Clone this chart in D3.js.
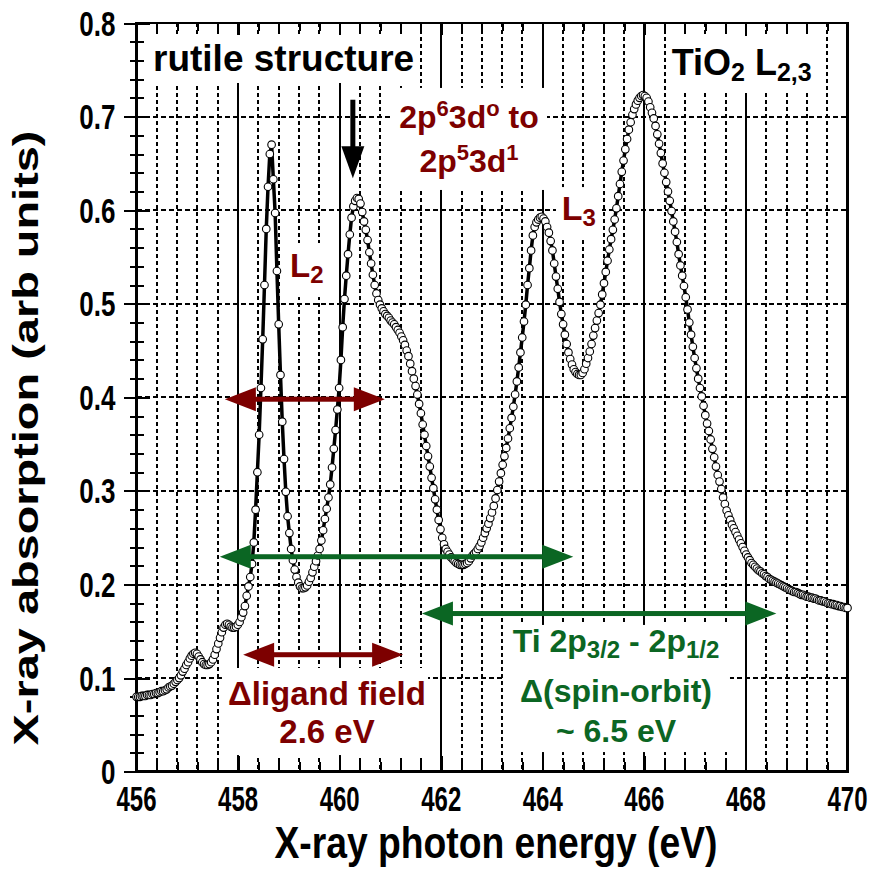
<!DOCTYPE html>
<html><head><meta charset="utf-8">
<script src="https://cdn.jsdelivr.net/npm/d3@7/dist/d3.min.js"></script>
<style>body{margin:0;background:#fff}svg{display:block}</style>
</head><body>
<script>
// ---------------- data ----------------
const energyStart = 456.0;      // eV, first sample
const energyStep = 0.035;       // eV between samples
const absorption = [
0.080,0.080,0.080,0.081,0.081,0.081,0.082,0.082,0.082,0.083,
0.083,0.084,0.084,0.085,0.086,0.086,0.087,0.088,0.090,0.091,
0.092,0.094,0.096,0.098,0.100,0.103,0.107,0.110,0.114,0.117,
0.121,0.124,0.126,0.127,0.126,0.123,0.120,0.117,0.115,0.114,
0.114,0.115,0.117,0.120,0.125,0.131,0.137,0.143,0.149,0.154,
0.157,0.158,0.157,0.155,0.154,0.154,0.155,0.157,0.160,0.165,
0.170,0.177,0.188,0.198,0.208,0.222,0.245,0.280,0.320,0.360,
0.410,0.462,0.520,0.580,0.625,0.660,0.670,0.633,0.597,0.535,
0.478,0.424,0.374,0.334,0.299,0.273,0.255,0.238,0.226,0.216,
0.208,0.202,0.198,0.196,0.196,0.197,0.199,0.203,0.207,0.213,
0.219,0.225,0.231,0.238,0.247,0.258,0.270,0.281,0.293,0.307,
0.325,0.345,0.365,0.387,0.410,0.440,0.475,0.505,0.530,0.553,
0.574,0.592,0.604,0.610,0.613,0.612,0.607,0.598,0.588,0.579,
0.568,0.555,0.543,0.531,0.520,0.511,0.504,0.499,0.495,0.492,
0.489,0.487,0.485,0.482,0.480,0.478,0.475,0.472,0.469,0.465,
0.461,0.456,0.450,0.444,0.436,0.428,0.420,0.412,0.403,0.393,
0.383,0.371,0.360,0.348,0.337,0.326,0.314,0.303,0.291,0.280,
0.269,0.259,0.250,0.243,0.238,0.235,0.232,0.229,0.227,0.225,
0.223,0.222,0.221,0.221,0.221,0.222,0.223,0.225,0.228,0.231,
0.233,0.235,0.238,0.241,0.245,0.250,0.255,0.260,0.265,0.271,
0.277,0.284,0.292,0.301,0.310,0.319,0.328,0.337,0.346,0.356,
0.367,0.378,0.390,0.403,0.417,0.432,0.448,0.464,0.481,0.499,
0.520,0.538,0.557,0.573,0.582,0.587,0.590,0.592,0.593,0.591,
0.588,0.582,0.576,0.567,0.557,0.543,0.529,0.516,0.502,0.489,
0.478,0.467,0.457,0.448,0.441,0.435,0.430,0.427,0.425,0.424,
0.424,0.426,0.430,0.436,0.442,0.449,0.457,0.466,0.474,0.482,
0.490,0.499,0.510,0.522,0.534,0.546,0.558,0.569,0.579,0.590,
0.602,0.615,0.628,0.641,0.653,0.665,0.676,0.686,0.694,0.702,
0.708,0.713,0.717,0.720,0.722,0.723,0.722,0.720,0.716,0.710,
0.704,0.698,0.690,0.681,0.671,0.661,0.650,0.640,0.630,0.620,
0.610,0.599,0.588,0.577,0.566,0.553,0.541,0.530,0.519,0.507,
0.494,0.480,0.467,0.454,0.442,0.431,0.420,0.410,0.401,0.391,
0.381,0.372,0.364,0.355,0.345,0.336,0.326,0.317,0.310,0.302,
0.293,0.286,0.279,0.274,0.269,0.264,0.260,0.256,0.252,0.248,
0.244,0.240,0.236,0.232,0.229,0.226,0.223,0.221,0.219,0.217,
0.215,0.214,0.212,0.211,0.209,0.208,0.206,0.205,0.204,0.203,
0.202,0.201,0.200,0.199,0.198,0.197,0.196,0.195,0.194,0.193,
0.192,0.192,0.191,0.190,0.189,0.189,0.188,0.187,0.187,0.186,
0.186,0.185,0.185,0.184,0.183,0.183,0.182,0.182,0.181,0.180,
0.180,0.179,0.179,0.178,0.178,0.177,0.177,0.176,0.176,0.175,0.175
];
const xTickValues = [456,458,460,462,464,466,468,470];
const xTickLabels = ["456","458","460","462","464","466","468","470"];
const yTickValues = [0,0.1,0.2,0.3,0.4,0.5,0.6,0.7,0.8];
const yTickLabels = ["0","0.1","0.2","0.3","0.4","0.5","0.6","0.7","0.8"];
const xTitle = "X-ray photon energy (eV)";
const yTitle = "X-ray absorption (arb units)";

// annotation arrows (energy span, absorption level)
const redArrows   = [{e1:457.74, e2:460.89, v:0.398}, {e1:458.10, e2:461.25, v:0.125}];
const greenArrows = [{e1:457.64, e2:464.60, v:0.2297}, {e1:461.62, e2:468.60, v:0.169}];
const downArrow   = {e:460.26, v1:0.718, v2:0.634};

// ---------------- chart ----------------
const W = 877, H = 872;
const RED = "#7d0000", GREEN = "#0b6623";
const FONT = "'Liberation Sans', Arial, Helvetica, sans-serif";
const svg = d3.select("body").append("svg").attr("width", W).attr("height", H)
  .style("font-family", FONT).style("font-weight", "bold");

const x = d3.scaleLinear().domain([456, 470]).range([136.5, 847.5]);
const y = d3.scaleLinear().domain([0, 0.8]).range([771.7, 23]);

const data = absorption.map((v, i) => ({e: energyStart + i * energyStep, v}));

// grid
const minorE = d3.range(1, 35).map(i => ({e: 456 + i * 0.4, major: i % 5 === 0}));
const grid = svg.append("g").attr("shape-rendering", "crispEdges");
grid.selectAll("line.v").data(minorE).join("line")
  .attr("x1", d => Math.round(x(d.e))).attr("x2", d => Math.round(x(d.e)))
  .attr("y1", y(0.8)).attr("y2", y(0))
  .attr("stroke", "#000")
  .attr("stroke-width", 2)
  .attr("stroke-dasharray", d => d.major ? null : "4,3");
grid.selectAll("line.h").data([0.1,0.2,0.3,0.4,0.5,0.6,0.7]).join("line")
  .attr("x1", x(456)).attr("x2", x(470))
  .attr("y1", d => Math.round(y(d))).attr("y2", d => Math.round(y(d)))
  .attr("stroke", "#000").attr("stroke-width", 2).attr("stroke-dasharray", "5,3");

// white label backgrounds (in data units)
const boxes = [
  [456.01, 461.54, 0.7872, 0.7359],
  [466.445, 469.555, 0.7861, 0.7252],
  [461.05, 464.083, 0.7306, 0.6216],
  [458.963, 459.77, 0.5649, 0.5072],
  [464.26, 465.166, 0.6247, 0.5681],
  [457.683, 461.74, 0.1108, 0.0178],
  [463.216, 467.686, 0.1568, 0.021]
];
svg.append("g").selectAll("rect").data(boxes).join("rect")
  .attr("x", d => x(d[0])).attr("width", d => x(d[1]) - x(d[0]))
  .attr("y", d => y(d[2])).attr("height", d => y(d[3]) - y(d[2]))
  .attr("fill", "#fff");

// axes ticks
const xMinor = minorE.filter(d => !d.major).map(d => d.e);
const yMinor = d3.range(1, 40).filter(i => i % 5 !== 0).map(i => i * 0.02);
function styleAxis(g){ g.attr("shape-rendering","crispEdges"); g.select(".domain").remove(); g.selectAll("line").attr("stroke","#000").attr("stroke-width",2); g.selectAll("text").remove(); }
svg.append("g").attr("transform", `translate(0,${y(0)})`).call(d3.axisBottom(x).tickValues(xTickValues).tickSize(-16)).call(styleAxis);
svg.append("g").attr("transform", `translate(0,${y(0)})`).call(d3.axisBottom(x).tickValues(xMinor).tickSize(-10)).call(styleAxis);
svg.append("g").attr("transform", `translate(0,${y(0.8)})`).call(d3.axisTop(x).tickValues(xTickValues).tickSize(-12)).call(styleAxis);
svg.append("g").attr("transform", `translate(0,${y(0.8)})`).call(d3.axisTop(x).tickValues(xMinor).tickSize(-8)).call(styleAxis);
svg.append("g").attr("transform", `translate(${x(456)},0)`).call(d3.axisLeft(y).tickValues(yTickValues).tickSize(13)).call(styleAxis);
svg.append("g").attr("transform", `translate(${x(456)},0)`).call(d3.axisLeft(y).tickValues(yTickValues).tickSize(-13)).call(styleAxis);
svg.append("g").attr("transform", `translate(${x(456)},0)`).call(d3.axisLeft(y).tickValues(yMinor).tickSize(7)).call(styleAxis);
svg.append("g").attr("transform", `translate(${x(456)},0)`).call(d3.axisLeft(y).tickValues(yMinor).tickSize(-7)).call(styleAxis);

// frame
svg.append("rect").attr("x", x(456)).attr("y", y(0.8))
  .attr("width", x(470) - x(456)).attr("height", y(0) - y(0.8))
  .attr("fill", "none").attr("stroke", "#000").attr("stroke-width", 2.6)
  .attr("shape-rendering", "crispEdges");

// tick labels (stretched vertically like the original)
const SY = 1.34;
svg.append("g").selectAll("text").data(xTickValues).join("text")
  .attr("transform", d => `translate(${x(d)},811) scale(1,${SY})`)
  .attr("text-anchor", "middle").attr("font-size", 26)
  .attr("textLength", 40).attr("lengthAdjust", "spacingAndGlyphs")
  .text((d, i) => xTickLabels[i]);
svg.append("g").selectAll("text").data(yTickValues).join("text")
  .attr("transform", d => `translate(115.5,${y(d) + 12.5}) scale(1,${SY})`)
  .attr("text-anchor", "end").attr("font-size", 26)
  .text((d, i) => yTickLabels[i]);

// axis titles
svg.append("text").attr("transform", `translate(496,858) scale(1,1.3)`)
  .attr("text-anchor", "middle").attr("font-size", 34)
  .attr("textLength", 443).attr("lengthAdjust", "spacingAndGlyphs").text(xTitle);
svg.append("text").attr("transform", `translate(38,438) rotate(-90) scale(${SY},1)`)
  .attr("text-anchor", "middle").attr("font-size", 35).text(yTitle);

// data series
svg.append("path").datum(data)
  .attr("d", d3.line().x(d => x(d.e)).y(d => y(d.v)))
  .attr("fill", "none").attr("stroke", "#000").attr("stroke-width", 3.5).attr("stroke-linejoin", "round");
svg.append("g").selectAll("circle").data(data).join("circle")
  .attr("cx", d => x(d.e)).attr("cy", d => y(d.v)).attr("r", 3.8)
  .attr("fill", "#fff").attr("stroke", "#000").attr("stroke-width", 1.1);

// arrows
const HL = 31, HW = 12, SW = 5;
function hArrow(a, color){
  const x1 = x(a.e1), x2 = x(a.e2), yy = y(a.v);
  const g = svg.append("g").attr("fill", color);
  g.append("rect").attr("x", x1 + HL - 2).attr("y", yy - SW/2).attr("width", x2 - x1 - 2*HL + 4).attr("height", SW);
  g.append("path").attr("d", `M${x1},${yy}L${x1+HL},${yy-HW}L${x1+HL},${yy+HW}Z`);
  g.append("path").attr("d", `M${x2},${yy}L${x2-HL},${yy-HW}L${x2-HL},${yy+HW}Z`);
}
redArrows.forEach(a => hArrow(a, RED));
greenArrows.forEach(a => hArrow(a, GREEN));
{
  const xx = x(downArrow.e), y1 = y(downArrow.v1), y2 = y(downArrow.v2);
  const g = svg.append("g").attr("fill", "#000");
  g.append("rect").attr("x", xx - 2.5).attr("y", y1).attr("width", 5).attr("height", y2 - y1 - 28);
  g.append("path").attr("d", `M${xx},${y2}L${xx-11.5},${y2-32}L${xx+11.5},${y2-32}Z`);
}

// annotation texts
function T(e, v, color, size, anchor){
  return svg.append("text").attr("x", x(e)).attr("y", y(v)).attr("fill", color)
    .attr("font-size", size).attr("text-anchor", anchor || "start");
}
T(456.325, 0.7492, "#000", 37).text("rutile structure");
{
  const t = T(466.538, 0.7444, "#000", 36);
  t.append("tspan").text("TiO");
  t.append("tspan").attr("font-size", 25).attr("dy", 6).text("2");
  t.append("tspan").attr("dy", -6).text(" L");
  t.append("tspan").attr("font-size", 25).attr("dy", 6).text("2,3");
}
{
  const t = T(462.547, 0.6878, RED, 32, "middle");
  t.append("tspan").text("2p");
  t.append("tspan").attr("font-size", 22).attr("dy", -12).text("6");
  t.append("tspan").attr("dy", 12).text("3d");
  t.append("tspan").attr("font-size", 22).attr("dy", -12).text("o");
  t.append("tspan").attr("dy", 12).text(" to");
  const t2 = T(462.547, 0.6408, RED, 32, "middle");
  t2.append("tspan").text("2p");
  t2.append("tspan").attr("font-size", 22).attr("dy", -12).text("5");
  t2.append("tspan").attr("dy", 12).text("3d");
  t2.append("tspan").attr("font-size", 22).attr("dy", -12).text("1");
}
{
  const t = T(459.022, 0.5289, RED, 33);
  t.append("tspan").text("L");
  t.append("tspan").attr("font-size", 24).attr("dy", 6).text("2");
  const t3 = T(464.372, 0.5895, RED, 34);
  t3.append("tspan").text("L");
  t3.append("tspan").attr("font-size", 24).attr("dy", 6).text("3");
}
T(459.751, 0.0712, RED, 33, "middle").text("\u0394ligand field");
T(459.751, 0.0303, RED, 33, "middle").text("2.6 eV");
{
  const t = T(465.442, 0.1282, GREEN, 32, "middle");
  t.append("tspan").text("Ti 2p");
  t.append("tspan").attr("font-size", 24).attr("dy", 6).text("3/2");
  t.append("tspan").attr("dy", -6).text(" - 2p");
  t.append("tspan").attr("font-size", 24).attr("dy", 6).text("1/2");
  T(465.442, 0.0748, GREEN, 32, "middle").text("\u0394(spin-orbit)");
  T(465.442, 0.0321, GREEN, 32, "middle").text("~ 6.5 eV");
}
</script>
</body></html>
